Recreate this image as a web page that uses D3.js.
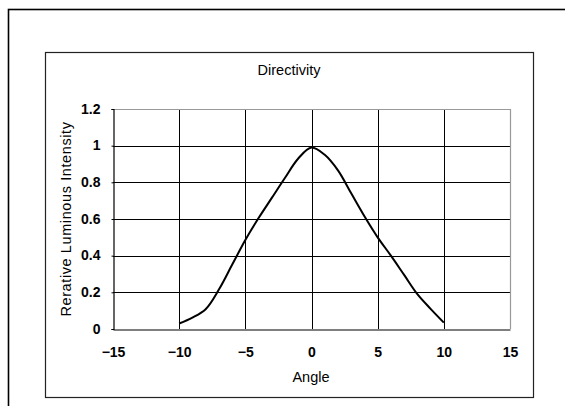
<!DOCTYPE html>
<html><head><meta charset="utf-8">
<script src="https://cdn.jsdelivr.net/npm/d3@7"></script>
<style>body{margin:0;background:#fff;} svg{display:block;} text{font-family:"Liberation Sans",Arial,sans-serif;fill:#000;}</style>
</head><body>
<svg id="c" width="565" height="406"></svg>
<script>
const angles = [-10,-9,-8,-7,-6,-5,-4,-3,-2,-1,0,1,2,3,4,5,6,7,8,9,10];
const intensity = [0.03,0.062,0.108,0.215,0.35,0.485,0.605,0.715,0.825,0.93,0.99,0.95,0.865,0.74,0.615,0.5,0.4,0.295,0.19,0.11,0.035];
const xTicks = [-15,-10,-5,0,5,10,15];
const yTicks = [0,0.2,0.4,0.6,0.8,1,1.2];
const title = "Directivity";
const xLabel = "Angle";
const yLabel = "Rerative Luminous Intensity";

const svg = d3.select("#c");
// outer frame
svg.append("rect").attr("x",8.5).attr("y",9.5).attr("width",570).attr("height",420)
  .attr("fill","none").attr("stroke","#000").attr("stroke-width",1.6);
// inner chart frame
svg.append("rect").attr("x",45.5).attr("y",52.5).attr("width",488).attr("height",345)
  .attr("fill","#fff").attr("stroke","#222").attr("stroke-width",1.2);

const x = d3.scaleLinear().domain([-15,15]).range([113,510]);
const y = d3.scaleLinear().domain([0,1.2]).range([329,109]);

// grid
const g = svg.append("g");
g.selectAll("line.vg").data(xTicks.filter(t=>t>-15&&t<15)).enter().append("line")
  .attr("x1",d=>Math.round(x(d))+0.5).attr("x2",d=>Math.round(x(d))+0.5)
  .attr("y1",y(1.2)).attr("y2",y(0)).attr("stroke","#000").attr("stroke-width",1);
g.selectAll("line.hg").data(yTicks.filter(t=>t>0&&t<1.2)).enter().append("line")
  .attr("x1",x(-15)).attr("x2",x(15))
  .attr("y1",d=>Math.round(y(d))+0.5).attr("y2",d=>Math.round(y(d))+0.5).attr("stroke","#000").attr("stroke-width",1);
// gray top and right border
g.append("line").attr("x1",x(-15)).attr("x2",x(15)+0.5).attr("y1",Math.round(y(1.2))+0.5).attr("y2",Math.round(y(1.2))+0.5).attr("stroke","#999").attr("stroke-width",1.2);
g.append("line").attr("x1",Math.round(x(15))+0.5).attr("x2",Math.round(x(15))+0.5).attr("y1",y(1.2)).attr("y2",y(0)).attr("stroke","#999").attr("stroke-width",1.2);

// axes
const xAxis = d3.axisBottom(x).tickValues(xTicks).tickSize(0).tickPadding(23)
  .tickFormat(d=>d<0?"\u2212"+Math.abs(d):String(d));
const yAxis = d3.axisLeft(y).tickValues(yTicks).tickSize(2).tickPadding(11)
  .tickFormat(d=>String(+d.toFixed(1)));
const gx = svg.append("g").attr("transform",`translate(0,${Math.round(y(0))+0.5})`).call(xAxis);
const gy = svg.append("g").attr("transform",`translate(${Math.round(x(-15))+0.5},0)`).call(yAxis);
[gx,gy].forEach(a=>{
  a.select(".domain").attr("stroke","#000").attr("stroke-width",1.2);
  a.selectAll(".tick line").attr("stroke","#000");
  a.selectAll("text").attr("font-size",14).attr("font-weight","bold").attr("fill","#111").attr("font-family","\"Liberation Sans\",Arial,sans-serif");
});
gx.selectAll("text").attr("dy","0.35em");
gy.selectAll("text").attr("dy","0.3em");

// curve
const line = d3.line().x((d,i)=>x(angles[i])).y(d=>y(d)).curve(d3.curveCatmullRom.alpha(0.5));
svg.append("path").datum(intensity).attr("d",line).attr("fill","none")
  .attr("stroke","#000").attr("stroke-width",2);

// texts
svg.append("text").attr("x",289).attr("y",75).attr("text-anchor","middle").attr("font-size",14.5).text(title);
svg.append("text").attr("x",311).attr("y",382).attr("text-anchor","middle").attr("font-size",14.5).text(xLabel);
svg.append("text").attr("transform","translate(71,219) rotate(-90)").attr("text-anchor","middle").attr("font-size",14.5).attr("letter-spacing",0.6).text(yLabel);
</script>
</body></html>
